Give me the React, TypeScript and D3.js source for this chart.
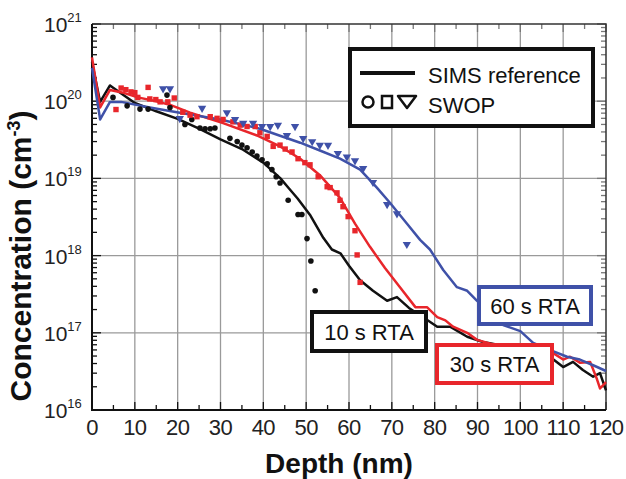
import React, { useEffect, useRef } from "react";
import * as d3 from "d3";

// SIMS reference profiles (depth nm, concentration cm^-3)
const sims10Depth = [0, 1.9, 4.2, 6.5, 10, 15, 20, 25, 30, 35, 40, 44, 46, 48, 51, 54, 56, 58, 60, 62.6, 65.6, 68.9, 71.2, 74, 78, 80.6, 83.6, 87.6, 91.3, 95.3, 99.2, 103, 106.9, 110, 112.3, 114.6, 117, 118.6, 120];
const sims10Conc = [3.2e20, 9.8e19, 1.6e20, 1.3e20, 9.5e19, 7.4e19, 5.9e19, 4.4e19, 3.2e19, 2.4e19, 1.6e19, 1.0e19, 7.4e18, 5.5e18, 3.3e18, 1.7e18, 1.2e18, 1.07e18, 7.4e17, 4.8e17, 3.5e17, 2.6e17, 2.9e17, 2.1e17, 1.5e17, 1.2e17, 1.2e17, 8.9e16, 7.6e16, 6.9e16, 6.0e16, 5.5e16, 4.9e16, 3.6e16, 4.2e16, 3.3e16, 2.7e16, 3.0e16, 1.8e16];

const sims30Depth = [0, 1.9, 4.2, 7, 10.7, 15, 18.4, 22.9, 30.6, 38.5, 43.9, 48.6, 53.2, 57.9, 61.4, 64.9, 68.4, 71.9, 75.5, 78.2, 80.6, 82.5, 84.3, 87.6, 89.9, 93, 97, 101, 105, 107.6, 110, 111.6, 113.9, 116.3, 117.9, 118.6, 120];
const sims30Conc = [3.7e20, 8.3e19, 1.4e20, 1.3e20, 1.12e20, 1.0e20, 8.9e19, 7.1e19, 5.2e19, 3.6e19, 2.6e19, 1.8e19, 1.1e19, 5.6e18, 2.6e18, 1.3e18, 6.9e17, 3.9e17, 2.15e17, 2.15e17, 1.6e17, 1.45e17, 1.2e17, 1.0e17, 8.1e16, 7.2e16, 6.6e16, 6.0e16, 5.8e16, 5.5e16, 4.5e16, 4.9e16, 4.1e16, 4.2e16, 2.5e16, 1.9e16, 2.3e16];

const sims60Depth = [0, 1.9, 4.2, 6.8, 13.5, 20.5, 29.9, 39.2, 48.6, 53.2, 57.9, 62.6, 66.5, 69.6, 73.5, 76.6, 78.9, 82, 85.2, 87.6, 89.9, 92.5, 96, 100, 103, 107.6, 110.9, 113.9, 117, 120];
const sims60Conc = [2.7e20, 5.8e19, 9.8e19, 9.8e19, 8.3e19, 7.1e19, 5.8e19, 4.4e19, 2.9e19, 2.3e19, 1.8e19, 1.3e19, 7.6e18, 4.8e18, 2.6e18, 1.6e18, 1.2e18, 6.5e17, 3.9e17, 3.5e17, 2.6e17, 1.8e17, 1.26e17, 1.05e17, 7.4e16, 5.8e16, 4.9e16, 4.5e16, 3.8e16, 3.2e16];

// SWOP points
const swop10Depth = [4.9, 8.2, 11.2, 13.1, 17.5, 18.2, 21.7, 23.3, 25.2, 26.4, 27.6, 28.7, 32.2, 33.9, 35, 36.2, 37.4, 38.5, 39.7, 40.9, 42, 43, 43.9, 45.8, 48.1, 49, 50.2, 51.1, 52.1];
const swop10Conc = [1.12e20, 8.7e19, 7.9e19, 7.9e19, 1.2e20, 8.3e19, 5.0e19, 5.8e19, 4.5e19, 4.4e19, 4.4e19, 4.5e19, 3.3e19, 3.0e19, 2.7e19, 2.5e19, 2.2e19, 1.95e19, 1.74e19, 1.55e19, 1.3e19, 1.05e19, 8.7e18, 5.2e18, 3.4e18, 3.4e18, 1.66e18, 8.5e17, 3.5e17];

const swop30Depth = [5.6, 6.8, 7.9, 9.1, 10, 10.7, 13.1, 13.5, 14.9, 15.9, 17.7, 19.2, 21.2, 22.9, 24.5, 27.6, 29.2, 30.6, 32.9, 34.6, 36.2, 38.1, 39.2, 40.9, 42.3, 43.9, 45.1, 46.7, 48.1, 49.7, 50.9, 52.8, 54.9, 55.6, 57.2, 57.9, 58.6, 59.8, 61.4, 61.9, 62.6];
const swop30Conc = [7.8e19, 1.48e20, 1.41e20, 1.32e20, 1.29e20, 1.12e20, 1.51e20, 1.07e20, 1.05e20, 9.8e19, 9.8e19, 1.1e20, 7.2e19, 6.6e19, 6.3e19, 6.3e19, 6.0e19, 5.8e19, 5.4e19, 4.9e19, 4.7e19, 4.7e19, 3.9e19, 3.5e19, 2.6e19, 2.7e19, 2.4e19, 2.2e19, 1.8e19, 1.6e19, 1.5e19, 1.05e19, 7.8e18, 7.6e18, 6.5e18, 5.2e18, 4.3e18, 3.2e18, 2.1e18, 1.02e18, 4.5e17];

const swop60Depth = [16.6, 18.2, 20.5, 25.7, 31.5, 33.4, 35.3, 37.6, 39.7, 41.6, 43.4, 45.5, 47.4, 49.3, 51.4, 53.2, 55.1, 57.4, 59.5, 61.4, 63.3, 65.6, 68.9, 71.2, 73.5];
const swop60Conc = [1.45e20, 1.45e20, 6.0e19, 8.1e19, 7.1e19, 5.8e19, 5.2e19, 5.2e19, 4.7e19, 4.7e19, 4.9e19, 3.6e19, 4.7e19, 3.3e19, 3.0e19, 2.7e19, 2.7e19, 2.1e19, 1.9e19, 1.7e19, 1.35e19, 8.9e18, 4.6e18, 3.5e18, 1.4e18];

const xTicks = [0, 10, 20, 30, 40, 50, 60, 70, 80, 90, 100, 110, 120];
const yExponents = [16, 17, 18, 19, 20, 21];

const BLACK = "#111111";
const RED = "#e8262b";
const BLUE = "#3f51a8";
const FONT = "'Liberation Sans', Arial, sans-serif";

const zip = (xs: number[], ys: number[]) => xs.map((d, i) => [d, ys[i]] as [number, number]);

export default function App() {
  const ref = useRef<SVGSVGElement>(null);

  useEffect(() => {
    const svg = d3.select(ref.current);
    svg.selectAll("*").remove();

    const left = 92, right = 606, top = 24, bottom = 410;
    const x = d3.scaleLinear().domain([0, 120]).range([left, right]);
    const y = d3.scaleLog().domain([1e16, 1e21]).range([bottom, top]);

    svg.append("rect").attr("width", 626).attr("height", 479).attr("fill", "#fff");

    // grid
    const grid = svg.append("g").attr("stroke", "#9a9a9a").attr("stroke-width", 1.3);
    xTicks.slice(1, -1).forEach(t => {
      grid.append("line").attr("x1", x(t)).attr("x2", x(t)).attr("y1", top).attr("y2", bottom);
    });
    yExponents.slice(1, -1).forEach(e => {
      grid.append("line").attr("x1", left).attr("x2", right).attr("y1", y(Math.pow(10, e))).attr("y2", y(Math.pow(10, e)));
    });

    // minor ticks
    const ticks = svg.append("g").attr("stroke", BLACK).attr("stroke-width", 1.3);
    y.ticks().forEach(t => {
      const major = Math.abs(Math.log10(t) - Math.round(Math.log10(t))) < 1e-6;
      const len = major ? 9 : 5;
      ticks.append("line").attr("x1", left).attr("x2", left + len).attr("y1", y(t)).attr("y2", y(t));
      ticks.append("line").attr("x1", right).attr("x2", right - len).attr("y1", y(t)).attr("y2", y(t)).attr("stroke", "#777");
    });
    d3.range(0, 121, 5).forEach(t => {
      const len = t % 10 === 0 ? 8 : 5;
      ticks.append("line").attr("x1", x(t)).attr("x2", x(t)).attr("y1", bottom).attr("y2", bottom - len);
      ticks.append("line").attr("x1", x(t)).attr("x2", x(t)).attr("y1", top).attr("y2", top + len).attr("stroke", "#777");
    });

    // frame
    svg.append("path")
      .attr("d", `M${left},${top}H${right}V${bottom}`)
      .attr("fill", "none").attr("stroke", "#333").attr("stroke-width", 1.5);
    svg.append("path")
      .attr("d", `M${left},${top}V${bottom}H${right}`)
      .attr("fill", "none").attr("stroke", BLACK).attr("stroke-width", 2);

    // SIMS lines
    const line = d3.line<[number, number]>().x(d => x(d[0])).y(d => y(d[1]));
    const profiles: [number[], number[], string][] = [
      [sims10Depth, sims10Conc, BLACK],
      [sims30Depth, sims30Conc, RED],
      [sims60Depth, sims60Conc, BLUE],
    ];
    profiles.forEach(([xs, ys, c]) => {
      svg.append("path").attr("d", line(zip(xs, ys))).attr("fill", "none")
        .attr("stroke", c).attr("stroke-width", 2.5).attr("stroke-linejoin", "round");
    });

    // SWOP markers
    svg.append("g").selectAll("circle").data(zip(swop10Depth, swop10Conc)).enter()
      .append("circle").attr("cx", d => x(d[0])).attr("cy", d => y(d[1])).attr("r", 2.8).attr("fill", BLACK);
    svg.append("g").selectAll("rect").data(zip(swop30Depth, swop30Conc)).enter()
      .append("rect").attr("x", d => x(d[0]) - 2.7).attr("y", d => y(d[1]) - 2.7)
      .attr("width", 5.4).attr("height", 5.4).attr("fill", RED);
    const tri = d3.symbol().type(d3.symbolTriangle).size(30);
    svg.append("g").selectAll("path").data(zip(swop60Depth, swop60Conc)).enter()
      .append("path").attr("d", tri)
      .attr("transform", d => `translate(${x(d[0])},${y(d[1])}) rotate(180)`)
      .attr("fill", BLUE);

    // tick labels
    const xl = svg.append("g").attr("font-family", FONT).attr("font-size", 22).attr("fill", "#222")
      .attr("text-anchor", "middle");
    xTicks.forEach(t => {
      xl.append("text").attr("x", x(t)).attr("y", 435).attr("letter-spacing", -0.6).text(t);
    });
    const yl = svg.append("g").attr("font-family", FONT).attr("fill", "#222");
    yExponents.forEach(e => {
      const t = yl.append("text").attr("x", 44).attr("y", y(Math.pow(10, e)) + 8).attr("font-size", 21);
      t.append("tspan").text("10");
      t.append("tspan").attr("dy", -10).attr("font-size", 13).text(e);
    });

    // axis titles
    svg.append("text").attr("x", 339).attr("y", 473).attr("text-anchor", "middle")
      .attr("font-family", FONT).attr("font-weight", "bold").attr("font-size", 28).attr("fill", BLACK)
      .text("Depth (nm)");
    const yt = svg.append("text").attr("transform", "translate(31,256) rotate(-90)").attr("text-anchor", "middle")
      .attr("font-family", FONT).attr("font-weight", "bold").attr("font-size", 30).attr("fill", BLACK);
    yt.append("tspan").text("Concentration (cm");
    yt.append("tspan").attr("dy", -11).attr("font-size", 18).text("-3");
    yt.append("tspan").attr("dy", 11).text(")");

    // legend
    const lg = svg.append("g");
    lg.append("rect").attr("x", 350).attr("y", 49).attr("width", 243).attr("height", 77)
      .attr("fill", "#fff").attr("stroke", BLACK).attr("stroke-width", 4);
    lg.append("line").attr("x1", 360).attr("x2", 415).attr("y1", 73).attr("y2", 73)
      .attr("stroke", BLACK).attr("stroke-width", 4);
    lg.append("circle").attr("cx", 368).attr("cy", 102).attr("r", 5.5)
      .attr("fill", "none").attr("stroke", BLACK).attr("stroke-width", 2.5);
    lg.append("rect").attr("x", 382).attr("y", 96).attr("width", 10).attr("height", 12)
      .attr("fill", "none").attr("stroke", BLACK).attr("stroke-width", 2.5);
    lg.append("path").attr("d", "M398,96 L416,96 L407,108 Z")
      .attr("fill", "none").attr("stroke", BLACK).attr("stroke-width", 2.5).attr("stroke-linejoin", "round");
    lg.append("text").attr("x", 428).attr("y", 83).attr("font-family", FONT).attr("font-size", 22)
      .attr("fill", BLACK).text("SIMS reference");
    lg.append("text").attr("x", 428).attr("y", 113).attr("font-family", FONT).attr("font-size", 22)
      .attr("fill", BLACK).text("SWOP");

    // RTA labels
    const labels: [string, number, number, number, number, string][] = [
      ["10 s RTA", 312, 312, 114, 39, BLACK],
      ["60 s RTA", 479, 287, 112, 37, BLUE],
      ["30 s RTA", 437, 345, 115, 38, RED],
    ];
    labels.forEach(([txt, bx, by, bw, bh, c]) => {
      svg.append("rect").attr("x", bx).attr("y", by).attr("width", bw).attr("height", bh)
        .attr("fill", "#fff").attr("stroke", c).attr("stroke-width", 4);
      svg.append("text").attr("x", bx + bw / 2).attr("y", by + bh / 2 + 8).attr("text-anchor", "middle")
        .attr("font-family", FONT).attr("font-size", 22).attr("fill", BLACK).text(txt);
    });
  }, []);

  return (
    <svg ref={ref} width={626} height={479}
      style={{ position: "absolute", left: 0, top: 0, display: "block" }} />
  );
}
